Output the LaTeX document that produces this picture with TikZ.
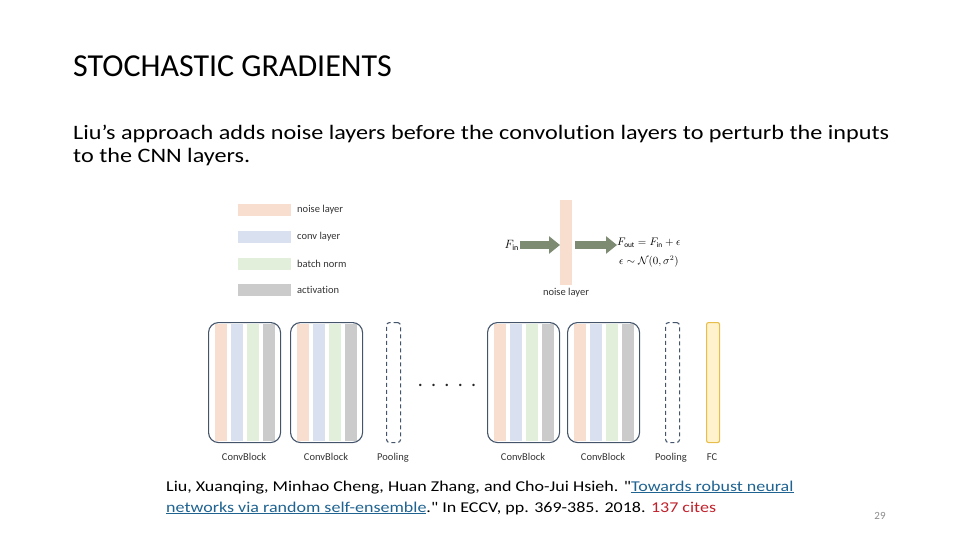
\documentclass[tikz,border=0pt]{standalone}
\usepackage{fontspec}
\setmainfont{Carlito}[Ligatures={NoCommon,TeXOff}]
\usetikzlibrary{arrows.meta}
\definecolor{noisec}{HTML}{F8DECE}
\definecolor{convc}{HTML}{D9E1F1}
\definecolor{bnc}{HTML}{E2EFDA}
\definecolor{actc}{HTML}{CBCBCB}
\definecolor{blockc}{HTML}{44546A}
\definecolor{fcfill}{HTML}{FFF2CC}
\definecolor{fcdraw}{HTML}{E8BE4A}
\definecolor{arrowc}{HTML}{7D8B73}
\definecolor{linkc}{HTML}{1F6391}
\definecolor{citec}{HTML}{C0202A}
\definecolor{pagec}{HTML}{8C8C8C}
\tikzset{
  lbl/.style={inner sep=0pt, font=\fontsize{10.5}{12}\selectfont, text=black!80},
  legbar/.style={inner sep=0pt, minimum width=53pt, minimum height=12pt, anchor=north west},
  strip/.style={inner sep=0pt, minimum width=12pt, minimum height=117pt, anchor=north west},
  block/.style={draw=blockc, line width=1.1pt, rounded corners=10pt, inner sep=0pt, minimum width=72pt, minimum height=120pt, anchor=north west},
  pool/.style={draw=blockc, line width=1.1pt, dashed, dash pattern=on 4pt off 3pt, rounded corners=3pt, inner sep=0pt, minimum width=14pt, minimum height=120pt, anchor=north west},
  fatarrow/.style={draw=arrowc, line width=8pt, -{Triangle[width=17pt,length=11pt]}},
}
\begin{document}
\begin{tikzpicture}[x=1pt,y=-1pt]
\useasboundingbox (0,0) rectangle (960,540);
% title and body
\node[anchor=base west, inner sep=0pt, font=\fontsize{32}{38}\selectfont] (title) at (73,77) {STOCHASTIC GRADIENTS};
\node[anchor=base west, inner sep=0pt, align=left, xscale=1.18, transform shape, font=\fontsize{20.5}{23}\selectfont] (body) at (73,163) {Liu’s approach adds noise layers before the convolution layers to perturb the inputs\\to the CNN layers.};
% legend
\node[legbar, fill=noisec] (lg1) at (238,204) {};
\node[legbar, fill=convc] (lg2) at (238,231) {};
\node[legbar, fill=bnc] (lg3) at (238,258) {};
\node[legbar, fill=actc] (lg4) at (238,284) {};
\node[lbl, anchor=west] (lt1) at (297,210) {noise layer};
\node[lbl, anchor=west] (lt2) at (297,237) {conv layer};
\node[lbl, anchor=west] (lt3) at (297,264) {batch norm};
\node[lbl, anchor=west] (lt4) at (297,290) {activation};
% noise layer illustration
\node[inner sep=0pt, fill=noisec, minimum width=12pt, minimum height=85pt, anchor=north west] (nl) at (560,200) {};
\node[lbl, anchor=north] (nllbl) at (566,288) {noise layer};
\node[inner sep=0pt, anchor=east, font=\fontsize{12}{14}\selectfont] (fin) at (519,245) {$F_{\mathrm{in}}$};
\node[inner sep=0pt, anchor=west, align=center, font=\fontsize{10.5}{19}\selectfont] (fout) at (617,253) {$F_{\mathrm{out}} = F_{\mathrm{in}} + \epsilon$\\$\epsilon \sim \mathcal{N}(0,\sigma^2)$};
\draw[fatarrow] (fin.east) ++(1pt,0) coordinate (a1s) -- (nl.west |- a1s);
\draw[fatarrow] (nl.east |- a1s) ++(3pt,0) -- (fout.west |- a1s);
% blocks
\foreach \n/\x in {1/208, 2/290, 3/487, 4/567}{
  \node[strip, fill=noisec] (s\n a) at (\x+7,323.5) {};
  \node[strip, fill=convc] (s\n b) at (\x+23,323.5) {};
  \node[strip, fill=bnc] (s\n c) at (\x+39,323.5) {};
  \node[strip, fill=actc] (s\n d) at (\x+55,323.5) {};
  \node[block] (b\n) at (\x,322) {};
  \node[lbl, anchor=base] (bl\n) at (\x+36,460) {ConvBlock};
}
\node[pool] (p1) at (386,322) {};
\node[lbl, anchor=base] (pl1) at (393,460) {Pooling};
\node[pool] (p2) at (665,322) {};
\node[lbl, anchor=base] (pl2) at (671,460) {Pooling};
\node[draw=fcdraw, fill=fcfill, line width=1.1pt, rounded corners=2pt, inner sep=0pt, minimum width=13pt, minimum height=120pt, anchor=north west] (fc) at (706,322) {};
\node[lbl, anchor=base] (fcl) at (712,460) {FC};
\node[inner sep=0pt, anchor=base, font=\fontsize{20}{22}\selectfont, text=black!85] (dots) at (447,386) {.\hspace{8.3pt}.\hspace{8.3pt}.\hspace{8.3pt}.\hspace{8.3pt}.};
% reference
\node[anchor=base west, inner sep=0pt, align=left, xscale=1.2, transform shape, font=\fontsize{15}{21}\selectfont] (ref) at (166,512) {Liu, Xuanqing, Minhao Cheng, Huan Zhang, and Cho-Jui Hsieh. "\textcolor{linkc}{\underline{Towards robust neural}}\\\textcolor{linkc}{\underline{networks via random self-ensemble}}." In ECCV, pp. 369-385. 2018. \textcolor{citec}{137 cites}};
\node[anchor=base, inner sep=0pt, font=\fontsize{11}{13}\selectfont, text=pagec] (page) at (880,519) {29};
\end{tikzpicture}
\end{document}
